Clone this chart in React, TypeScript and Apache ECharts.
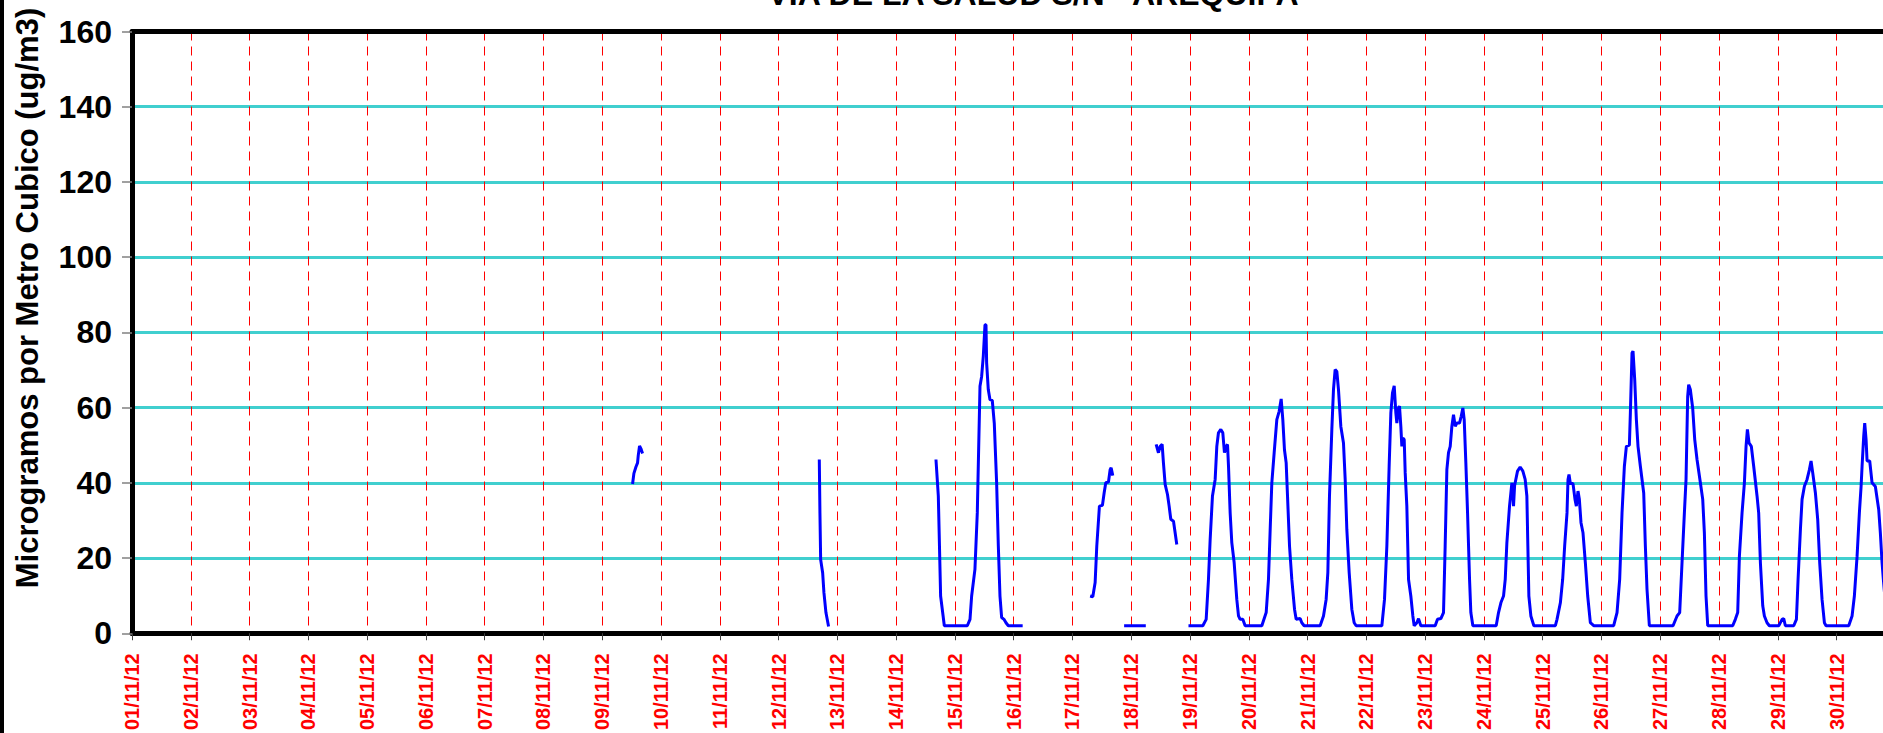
import React, { useEffect, useRef } from "react";
import * as echarts from "echarts";

// X tick labels (one per day, value = days since 01/11/12 00:00)
const xLabels = [
  "01/11/12", "02/11/12", "03/11/12", "04/11/12", "05/11/12", "06/11/12",
  "07/11/12", "08/11/12", "09/11/12", "10/11/12", "11/11/12", "12/11/12",
  "13/11/12", "14/11/12", "15/11/12", "16/11/12", "17/11/12", "18/11/12",
  "19/11/12", "20/11/12", "21/11/12", "22/11/12", "23/11/12", "24/11/12",
  "25/11/12", "26/11/12", "27/11/12", "28/11/12", "29/11/12", "30/11/12",
];

const title = "VIA DE LA SALUD S/N - AREQUIPA";
const yName = "Microgramos por Metro Cubico (ug/m3)";

// Visible x range (days since 01/11/12); the original plot is cropped just before 01/12/12
const xMin = 0;
const xMax = 29.79;

// Data segments: [days since 01/11/12, ug/m3]
const seg09 = [
  [8.516, 39.7], [8.539, 42.5], [8.573, 44.2], [8.601, 45.3], [8.613, 47.3],
  [8.635, 49.8], [8.658, 49.1], [8.686, 47.8],
];
const seg12 = [
  [11.693, 46.2], [11.704, 32], [11.716, 19.6], [11.75, 16.1], [11.772, 10.8],
  [11.806, 5.5], [11.851, 1.8],
];
const seg14 = [
  [13.678, 46.2], [13.718, 36.5], [13.757, 9.9], [13.82, 2], [14.211, 2],
  [14.257, 3.7], [14.285, 9.9], [14.341, 17], [14.381, 32], [14.427, 65.7],
  [14.455, 68.3], [14.483, 73.6], [14.512, 82], [14.529, 82], [14.54, 71.9],
  [14.568, 64.8], [14.597, 62.1], [14.636, 61.9], [14.67, 55.9], [14.71, 40],
  [14.739, 23.2], [14.767, 9.9], [14.795, 4.2], [14.835, 3.7], [14.869, 2.8],
  [14.909, 2], [15.153, 2],
];
const seg17a = [
  [16.301, 9.9], [16.346, 9.7], [16.386, 13.5], [16.414, 23.2], [16.459, 33.8],
  [16.51, 34], [16.539, 37.3], [16.567, 40], [16.613, 40.2], [16.641, 43.5],
  [16.658, 44], [16.686, 41.9],
];
const seg17b = [[16.879, 2], [17.248, 2]];
const seg18 = [
  [17.424, 50.2], [17.463, 48], [17.492, 49.7], [17.526, 50.2], [17.548, 45.3],
  [17.577, 39.6], [17.617, 36.9], [17.645, 33.8], [17.673, 30.3], [17.719, 29.8],
  [17.747, 26.7], [17.775, 23.6],
];
const seg19to30 = [
  [17.974, 2], [18.218, 2], [18.275, 3.7], [18.314, 14.3], [18.343, 25],
  [18.382, 36.5], [18.428, 40.9], [18.456, 49.7], [18.484, 53.3], [18.524, 54.2],
  [18.558, 53.3], [18.586, 48], [18.615, 49.7], [18.638, 50.2], [18.655, 44.4],
  [18.683, 32], [18.711, 24.1], [18.751, 18.8], [18.796, 9], [18.825, 4.6],
  [18.853, 3.7], [18.898, 3.7], [18.938, 2], [19.222, 2], [19.296, 5.5],
  [19.335, 14.3], [19.364, 27.6], [19.392, 40], [19.432, 48], [19.477, 56.8],
  [19.517, 59], [19.551, 62.3], [19.579, 56.8], [19.607, 48.8], [19.636, 45.3],
  [19.659, 36.5], [19.693, 23.2], [19.732, 14.3], [19.778, 6.4], [19.806, 3.7],
  [19.874, 3.9], [19.902, 2.8], [19.942, 2], [20.214, 2], [20.271, 4.6],
  [20.316, 9], [20.345, 16.1], [20.373, 36.5], [20.413, 54.2], [20.441, 64.8],
  [20.469, 70.1], [20.498, 69.6], [20.526, 64.8], [20.566, 55], [20.611, 50.6],
  [20.64, 40.9], [20.668, 27.6], [20.708, 16.1], [20.753, 6.4], [20.793, 2.8],
  [20.827, 2], [21.264, 2], [21.309, 9], [21.349, 23.2], [21.388, 44.4],
  [21.417, 58.6], [21.445, 63.9], [21.474, 65.8], [21.502, 58.6], [21.519, 55.9],
  [21.547, 59.9], [21.564, 60.4], [21.587, 55], [21.604, 49.7], [21.621, 51.9],
  [21.644, 51.5], [21.661, 42.7], [21.689, 33.8], [21.718, 14.3], [21.757, 9.9],
  [21.791, 4.6], [21.814, 2], [21.859, 2.8], [21.888, 3.9], [21.927, 2],
  [22.171, 2], [22.211, 3.7], [22.268, 3.9], [22.313, 5.5], [22.341, 23.2],
  [22.37, 43.5], [22.398, 48], [22.427, 49.7], [22.455, 55], [22.483, 58.1],
  [22.512, 55], [22.54, 55.9], [22.585, 55.9], [22.614, 57.7], [22.642, 59.9],
  [22.665, 56.8], [22.693, 45.3], [22.722, 32], [22.756, 14.3], [22.778, 5.5],
  [22.812, 2], [23.209, 2], [23.249, 5.5], [23.289, 8.1], [23.334, 9.9],
  [23.363, 14.3], [23.391, 24.1], [23.436, 33.8], [23.459, 37.3], [23.476, 40],
  [23.493, 37.3], [23.504, 33.8], [23.522, 39.2], [23.543, 40.9], [23.572, 43.1],
  [23.617, 44.2], [23.663, 43.1], [23.702, 40.9], [23.731, 36.5], [23.748, 23.2],
  [23.765, 9.9], [23.799, 4.6], [23.85, 2], [24.216, 2], [24.244, 3.7],
  [24.301, 8.1], [24.34, 14.3], [24.374, 23.2], [24.414, 32], [24.431, 40.9],
  [24.448, 42.2], [24.471, 39.8], [24.516, 39.8], [24.55, 35.6], [24.573, 33.8],
  [24.601, 37.8], [24.624, 35.6], [24.652, 29.4], [24.686, 26.7], [24.726, 18.8],
  [24.766, 9.9], [24.811, 2.8], [24.868, 2], [25.208, 2], [25.265, 5.5],
  [25.31, 14.3], [25.35, 32], [25.39, 44.4], [25.424, 49.7], [25.475, 50],
  [25.492, 58.6], [25.52, 74.5], [25.537, 75], [25.566, 67.4], [25.594, 56.8],
  [25.622, 49.7], [25.662, 44.4], [25.719, 37.3], [25.747, 23.2], [25.775, 11.7],
  [25.815, 2], [26.218, 2], [26.286, 4.6], [26.331, 5.5], [26.371, 18.8],
  [26.411, 32], [26.439, 40.9], [26.467, 63], [26.484, 66.1], [26.512, 64.8],
  [26.552, 59.9], [26.587, 51.5], [26.626, 46.2], [26.683, 40], [26.723, 35.6],
  [26.751, 26.7], [26.779, 9.9], [26.808, 2], [27.233, 2], [27.278, 3.7],
  [27.318, 5.5], [27.347, 20.5], [27.392, 32], [27.432, 40], [27.46, 49.7],
  [27.483, 54.2], [27.511, 50.6], [27.55, 49.7], [27.59, 44.4], [27.647, 36.5],
  [27.675, 32], [27.704, 18.8], [27.744, 7.3], [27.772, 4.6], [27.817, 2.8],
  [27.857, 2], [28.016, 2], [28.073, 3.7], [28.101, 3.9], [28.129, 2],
  [28.271, 2], [28.317, 3.7], [28.345, 14.3], [28.385, 27.6], [28.413, 35.6],
  [28.453, 39.1], [28.498, 40.9], [28.538, 43.5], [28.566, 45.8], [28.594, 42.7],
  [28.64, 37.3], [28.679, 30.3], [28.713, 18.8], [28.753, 9], [28.793, 2.8],
  [28.821, 2], [29.207, 2], [29.264, 4.6], [29.303, 9.9], [29.349, 20.5],
  [29.388, 32], [29.417, 39], [29.434, 44.4], [29.462, 52.4], [29.479, 55.9],
  [29.502, 51.5], [29.519, 45.8], [29.564, 45.8], [29.604, 40], [29.66, 39],
  [29.717, 32.9], [29.745, 26.7], [29.774, 18.8], [29.796, 14.3], [29.82, 10],
];

const segments = [seg09, seg12, seg14, seg17a, seg17b, seg18, seg19to30];

const FONT = '"Liberation Sans", Arial, Helvetica, sans-serif';

export default function App() {
  const ref = useRef<HTMLDivElement>(null);

  useEffect(() => {
    if (!ref.current) return;
    const chart = echarts.init(ref.current, undefined, { renderer: "svg" });

    const lineData: any[] = [];
    segments.forEach((s, i) => {
      if (i > 0) lineData.push([s[0][0], "-"]);
      s.forEach((p) => lineData.push(p));
    });

    chart.setOption({
      animation: false,
      backgroundColor: "#ffffff",
      grid: { left: 132, top: 31.5, right: 0, bottom: 98.5, show: false },
      xAxis: [
        {
          type: "value",
          min: xMin,
          max: xMax,
          interval: 1,
          axisLine: { show: true, onZero: false, lineStyle: { color: "#000", width: 5 } },
          axisTick: { show: true, length: 7, lineStyle: { color: "#404040", width: 1 } },
          axisLabel: {
            rotate: 90,
            margin: 20,
            color: "#FF0000",
            fontWeight: "bold",
            fontSize: 20,
            fontFamily: FONT,
            showMinLabel: true,
            showMaxLabel: false,
            formatter: (v: number) => xLabels[Math.round(v)] ?? "",
          },
          splitLine: {
            show: true,
            showMinLine: false,
            showMaxLine: false,
            lineStyle: { color: "#FF0000", width: 1, type: [9, 6] },
          },
        },
        {
          type: "value",
          position: "top",
          min: xMin,
          max: xMax,
          axisLine: { show: true, onZero: false, lineStyle: { color: "#000", width: 5 } },
          axisTick: { show: false },
          axisLabel: { show: false },
          splitLine: { show: false },
        },
      ],
      yAxis: {
        type: "value",
        min: 0,
        max: 160,
        interval: 20,
        axisLine: { show: true, lineStyle: { color: "#000", width: 5 } },
        axisTick: { show: true, length: 10, lineStyle: { color: "#808080", width: 1.5 } },
        axisLabel: {
          margin: 20,
          color: "#000",
          fontWeight: "bold",
          fontSize: 32,
          fontFamily: FONT,
        },
        splitLine: {
          show: true,
          showMinLine: false,
          showMaxLine: false,
          lineStyle: { color: "#40CFCF", width: 3 },
        },
      },
      series: [
        {
          type: "line",
          xAxisIndex: 0,
          data: lineData,
          showSymbol: false,
          connectNulls: false,
          lineStyle: { color: "#0000FF", width: 3 },
          z: 5,
        },
      ],
      graphic: [
        {
          type: "rect",
          shape: { x: 0, y: 0, width: 4, height: 733 },
          style: { fill: "#000" },
        },
        {
          type: "text",
          x: 1033,
          y: 10,
          style: {
            text: title,
            font: `bold 32px ${FONT}`,
            fill: "#000",
            align: "center",
            verticalAlign: "bottom",
          },
        },
        {
          type: "text",
          x: 27,
          y: 298,
          rotation: Math.PI / 2,
          style: {
            text: yName,
            font: `bold 31px ${FONT}`,
            fill: "#000",
            align: "center",
            verticalAlign: "middle",
          },
        },
      ],
    });

    return () => chart.dispose();
  }, []);

  return (
    <div
      ref={ref}
      style={{ position: "fixed", left: 0, top: 0, width: 1883, height: 733, background: "#fff" }}
    />
  );
}
